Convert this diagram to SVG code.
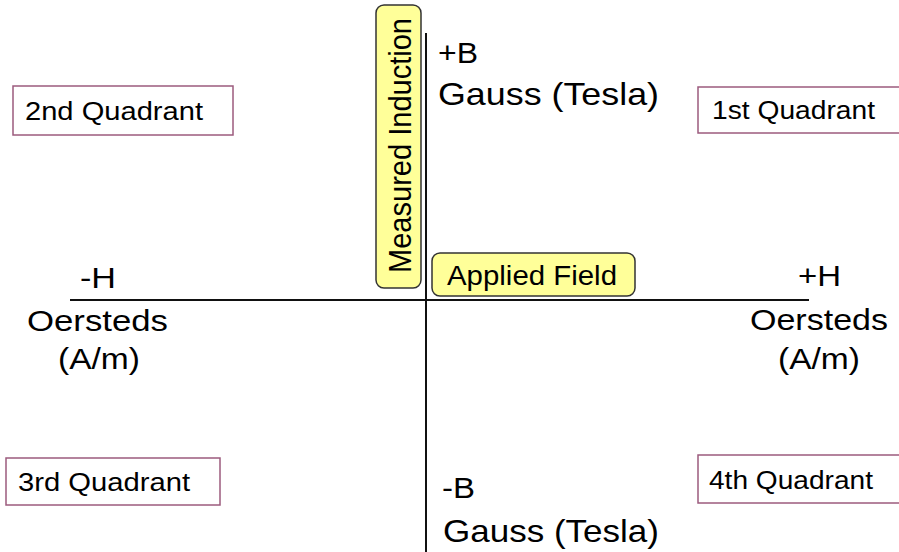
<svg xmlns="http://www.w3.org/2000/svg" width="899" height="552" viewBox="0 0 899 552">
  <style>
    text { font-family: "Liberation Sans", Arial, sans-serif; fill: #000; }
    .big { font-size: 30px; }
    .gauss { font-size: 32px; }
    .quad { font-size: 26px; }
    .qbox { fill: #fff; stroke: #9c5b7d; stroke-width: 1.5; }
    .ybox { fill: #ffff99; stroke: #333; stroke-width: 1.5; }
    .axis { stroke: #111; stroke-width: 2; fill: none; }
  </style>
  <rect width="899" height="552" fill="#fff"/>
  <g id="connectors">
    <line class="axis" x1="426" y1="33" x2="426" y2="552"/>
    <line class="axis" x1="70" y1="300" x2="809" y2="300"/>
  </g>
  <g id="measured-induction">
    <rect class="ybox" x="376" y="5" width="45" height="283" rx="8"/>
    <text transform="translate(411,273) scale(1.12,1) rotate(-90)" font-size="28" textLength="255" lengthAdjust="spacingAndGlyphs">Measured Induction</text>
  </g>
  <g id="applied-field">
    <rect class="ybox" x="432" y="253" width="203" height="43" rx="8"/>
    <text x="447" y="285" font-size="27" textLength="170" lengthAdjust="spacingAndGlyphs">Applied Field</text>
  </g>
  <g id="plus-b">
    <text class="big" x="438" y="63" textLength="40" lengthAdjust="spacingAndGlyphs">+B</text>
    <text class="gauss" x="438" y="105" textLength="221" lengthAdjust="spacingAndGlyphs">Gauss (Tesla)</text>
  </g>
  <g id="minus-b">
    <text class="big" x="442" y="498" textLength="33" lengthAdjust="spacingAndGlyphs">-B</text>
    <text class="gauss" x="443" y="542" textLength="216" lengthAdjust="spacingAndGlyphs">Gauss (Tesla)</text>
  </g>
  <g id="minus-h">
    <text class="big" x="80" y="288" textLength="36" lengthAdjust="spacingAndGlyphs">-H</text>
    <text class="big" x="27" y="331" textLength="141" lengthAdjust="spacingAndGlyphs">Oersteds</text>
    <text class="big" x="58" y="369" textLength="82" lengthAdjust="spacingAndGlyphs">(A/m)</text>
  </g>
  <g id="plus-h">
    <text class="big" x="798" y="286" textLength="43" lengthAdjust="spacingAndGlyphs">+H</text>
    <text class="big" x="750" y="330" textLength="138" lengthAdjust="spacingAndGlyphs">Oersteds</text>
    <text class="big" x="778" y="369" textLength="82" lengthAdjust="spacingAndGlyphs">(A/m)</text>
  </g>
  <g id="q2">
    <rect class="qbox" x="13" y="86" width="220" height="49"/>
    <text class="quad" x="25" y="120" textLength="178" lengthAdjust="spacingAndGlyphs">2nd Quadrant</text>
  </g>
  <g id="q1">
    <rect class="qbox" x="698" y="87" width="212" height="46"/>
    <text class="quad" x="712" y="119" textLength="163" lengthAdjust="spacingAndGlyphs">1st Quadrant</text>
  </g>
  <g id="q3">
    <rect class="qbox" x="6" y="458" width="214" height="47"/>
    <text class="quad" x="18" y="491" textLength="172" lengthAdjust="spacingAndGlyphs">3rd Quadrant</text>
  </g>
  <g id="q4">
    <rect class="qbox" x="698" y="455" width="212" height="48"/>
    <text class="quad" x="709" y="489" textLength="164" lengthAdjust="spacingAndGlyphs">4th Quadrant</text>
  </g>
</svg>
